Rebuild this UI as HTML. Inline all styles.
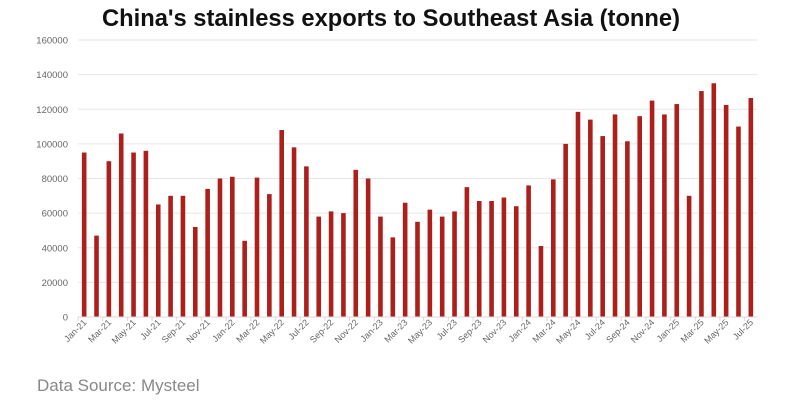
<!DOCTYPE html>
<html><head><meta charset="utf-8"><style>
html,body{margin:0;padding:0;background:#fff;}
</style></head><body>
<svg width="788" height="403" xmlns="http://www.w3.org/2000/svg" font-family="Liberation Sans, sans-serif">
<rect width="788" height="403" fill="#fff"/>
<text x="391" y="26" text-anchor="middle" font-size="24" font-weight="bold" fill="#111" textLength="578" lengthAdjust="spacingAndGlyphs">China's stainless exports to Southeast Asia (tonne)</text>
<g id="grid" stroke="#e6e6e6" stroke-width="1"></g>
<g id="ylab" font-size="9.5" fill="#666" text-anchor="end"></g>
<g id="bars" fill="#ad1f1b"></g>
<line x1="78" y1="317" x2="757" y2="317" stroke="#d9d9d9"/>
<g id="ticks" stroke="#d9d9d9"></g>
<g id="xlab" font-size="9" fill="#666"></g>
<text x="37" y="391" font-size="17" fill="#888">Data Source: Mysteel</text>
</svg>
<script>
var v=[95000,47000,90000,106000,95000,96000,65000,70000,70000,52000,74000,80000,81000,44000,80500,71000,108000,98000,87000,58000,61000,60000,85000,80000,58000,46000,66000,55000,62000,58000,61000,75000,67000,67000,69000,64000,76000,41000,79500,100000,118500,114000,104500,117000,101500,116000,125000,117000,123000,70000,130500,135000,122500,110000,126500];
var ns="http://www.w3.org/2000/svg";
function el(p,t,a,txt){var e=document.createElementNS(ns,t);for(var k in a)e.setAttribute(k,a[k]);if(txt)e.textContent=txt;document.getElementById(p).appendChild(e);}
var y0=317,sc=277/160000,x0=78,cw=(757-78)/55;
for(var i=1;i<=8;i++){var y=y0-i*20000*sc;el('grid','line',{x1:78,x2:757,y1:y,y2:y});}
for(var i=0;i<=8;i++){var y=y0-i*20000*sc;el('ylab','text',{x:68,y:y+3.5},String(i*20000));}
var m=['Jan','Feb','Mar','Apr','May','Jun','Jul','Aug','Sep','Oct','Nov','Dec'];
for(var i=0;i<55;i++){var cx=x0+cw*(i+0.5);var h=v[i]*sc;el('bars','rect',{x:cx-2.3,y:y0-h,width:4.6,height:h});
if(i%2==0){var lbl=m[i%12]+'-'+(21+Math.floor(i/12));el('xlab','text',{x:cx+3,y:323,'text-anchor':'end',transform:'rotate(-45 '+(cx+3)+' 323)'},lbl);}}
for(var i=0;i<=55;i+=2){var x=x0+cw*i;el('ticks','line',{x1:x,x2:x,y1:317,y2:321});}
</script>
</body></html>
